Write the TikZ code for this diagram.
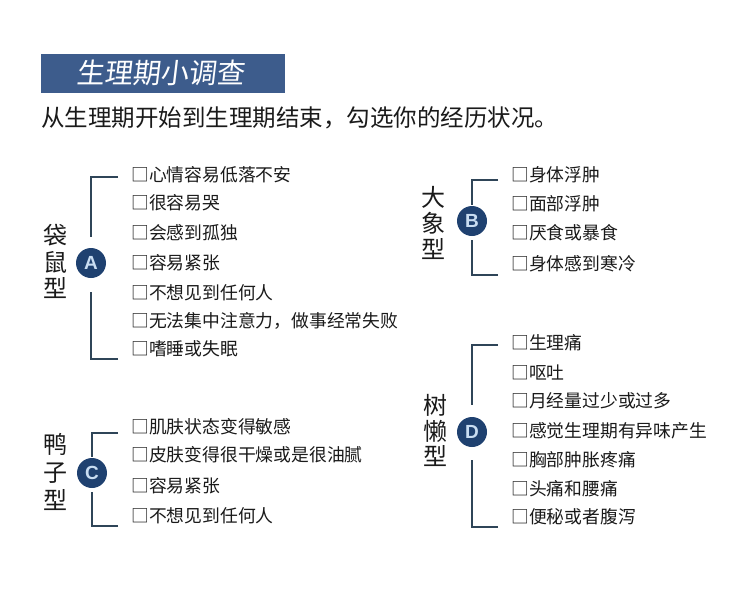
\documentclass[tikz,border=0pt]{standalone}
\usepackage{fontspec}
\setmainfont{Noto Sans CJK SC}
\newfontfamily\lettfont{Liberation Sans}
\usetikzlibrary{calc}
\definecolor{titlebg}{HTML}{3D5C8C}
\definecolor{circbg}{HTML}{1F4170}
\definecolor{circfg}{HTML}{C9DDF2}
\definecolor{brkcol}{HTML}{2F4558}
\definecolor{txtcol}{HTML}{1A1A1A}
\tikzset{
  itm/.style={anchor=west,inner sep=0pt,text=txtcol,font=\fontsize{17.8}{17.8}\selectfont},
  lab/.style={inner sep=0pt,text=txtcol,font=\fontsize{24}{24}\selectfont},
  circ/.style={circle,fill=circbg,text=circfg,minimum size=30pt,inner sep=0pt,font=\lettfont\bfseries\fontsize{19}{19}\selectfont},
  brk/.style={draw=brkcol,line width=2.2pt}
}
\begin{document}
\begin{tikzpicture}[x=1pt,y=-1pt]
\useasboundingbox (0,0) rectangle (750,600);
\fill[white] (0,0) rectangle (750,600);
% title
\node[fill=titlebg,minimum width=244pt,minimum height=39pt,inner sep=0pt] (tbox) at (163,73.5) {};
\node[text=white,font=\fontsize{28}{28}\selectfont,xslant=0.12,transform shape,inner sep=0pt] (ttl) at (162,73) {生理期小调查};
\node[anchor=west,inner sep=0pt,text=txtcol,font=\fontsize{23.5}{23.5}\selectfont] (sub) at (41,118) {从生理期开始到生理期结束，勾选你的经历状况。};

% ---------- A ----------
\node[circ] (A) at (91,263) {A};
\coordinate (At) at (118,177);
\coordinate (Ab) at (118,359);
\draw[brk,shorten >=11pt] (At) -| (A);
\draw[brk,shorten >=14pt] (Ab) -| (A);
\node[lab] (A1) at (55,235) {袋};
\node[lab] (A2) at (55,262) {鼠};
\node[lab] (A3) at (55,288) {型};
\node[itm] (a1) at (131,175) {□心情容易低落不安};
\node[itm] (a2) at (131,203) {□很容易哭};
\node[itm] (a3) at (131,233) {□会感到孤独};
\node[itm] (a4) at (131,263) {□容易紧张};
\node[itm] (a5) at (131,293) {□不想见到任何人};
\node[itm] (a6) at (131,321) {□无法集中注意力，做事经常失败};
\node[itm] (a7) at (131,349) {□嗜睡或失眠};

% ---------- B ----------
\node[circ] (B) at (472,221) {B};
\coordinate (Bt) at (498,180);
\coordinate (Bb) at (498,275);
\draw[brk,shorten >=1pt] (Bt) -| (B);
\draw[brk,shorten >=4pt] (Bb) -| (B);
\node[lab] (B1) at (433,197) {大};
\node[lab] (B2) at (433,223) {象};
\node[lab] (B3) at (433,249) {型};
\node[itm] (b1) at (511,175) {□身体浮肿};
\node[itm] (b2) at (511,204) {□面部浮肿};
\node[itm] (b3) at (511,233) {□厌食或暴食};
\node[itm] (b4) at (511,264) {□身体感到寒冷};

% ---------- C ----------
\node[circ] (C) at (92,473) {C};
\coordinate (Ct) at (118,433);
\coordinate (Cb) at (118,526);
\draw[brk,shorten >=1pt] (Ct) -| (C);
\draw[brk,shorten >=4pt] (Cb) -| (C);
\node[lab] (C1) at (55,444) {鸭};
\node[lab] (C2) at (55,473) {子};
\node[lab] (C3) at (55,500) {型};
\node[itm] (c1) at (131,427) {□肌肤状态变得敏感};
\node[itm] (c2) at (131,455) {□皮肤变得很干燥或是很油腻};
\node[itm] (c3) at (131,486) {□容易紧张};
\node[itm] (c4) at (131,516) {□不想见到任何人};

% ---------- D ----------
\node[circ] (D) at (472,432) {D};
\coordinate (Dt) at (498,345);
\coordinate (Db) at (498,527);
\draw[brk,shorten >=12pt] (Dt) -| (D);
\draw[brk,shorten >=13pt] (Db) -| (D);
\node[lab] (D1) at (435,405) {树};
\node[lab] (D2) at (435,431) {懒};
\node[lab] (D3) at (435,456) {型};
\node[itm] (d1) at (511,343) {□生理痛};
\node[itm] (d2) at (511,372) {□呕吐};
\node[itm] (d3) at (511,401) {□月经量过少或过多};
\node[itm] (d4) at (511,431) {□感觉生理期有异味产生};
\node[itm] (d5) at (511,460) {□胸部肿胀疼痛};
\node[itm] (d6) at (511,489) {□头痛和腰痛};
\node[itm] (d7) at (511,517) {□便秘或者腹泻};
\end{tikzpicture}
\end{document}
